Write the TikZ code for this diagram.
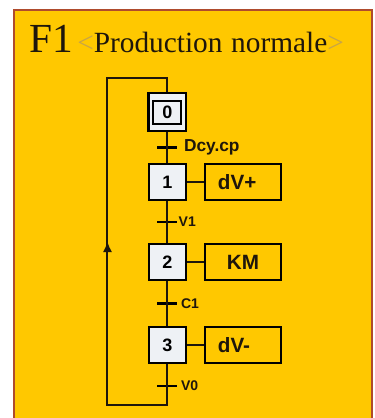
\documentclass[tikz,border=0pt]{standalone}
\usepackage{fontspec}
\setmainfont{Liberation Serif}
\newfontfamily\grafsans{Liberation Sans}
\usepackage{xcolor}
\usepackage{tikz}
\usetikzlibrary{positioning,calc,arrows.meta}

\definecolor{fond}{RGB}{255,200,0}
\definecolor{cadre}{RGB}{175,75,45}
\definecolor{blanc}{RGB}{238,241,245}
\definecolor{chevron}{RGB}{200,165,70}
\definecolor{encre}{RGB}{30,22,12}

\begin{document}
\begin{tikzpicture}
                \tikzstyle{etape} = [rectangle, minimum width=27.45pt, minimum height=26.7pt, inner sep=0pt, draw=black, line width=1.8pt, fill=blanc, font=\grafsans\bfseries\fontsize{13.5pt}{14pt}\selectfont]
                \tikzstyle{etapeinit} = [etape, minimum width=28.2pt, minimum height=28.2pt]
                \tikzstyle{etapein} = [rectangle, minimum width=21pt, minimum height=17.25pt, inner sep=0pt, draw=black, line width=1.5pt, font=\grafsans\bfseries\fontsize{13.5pt}{14pt}\selectfont]
                \tikzstyle{action} = [rectangle, minimum width=56.7pt, minimum height=26.7pt, inner sep=0pt, draw=black, line width=1.8pt, text=encre, font=\grafsans\bfseries\fontsize{15.5pt}{16pt}\selectfont]
                \tikzstyle{actionl} = [action, inner xsep=9.6pt, text width=37.5pt, align=left]
                \tikzstyle{recept} = [rectangle, fill=black, minimum width=15pt, minimum height=1.6pt, inner sep=0pt]
                \tikzstyle{cond} = [anchor=west, inner sep=0pt, text=encre, font=\grafsans\bfseries\fontsize{10.5pt}{11pt}\selectfont]
                \tikzstyle{link} = [line width=1.5pt, draw=encre]
                \tikzstyle{arrow} = [link, -{Latex[length=8pt,width=7pt]}]

                \useasboundingbox (0,0) rectangle (281.25pt,-313.5pt);
                \draw [cadre, fill=fond, line width=1.2pt] (10.5pt,-7.5pt) rectangle (279pt,-330pt);

                \node (titre) [anchor=base west, inner sep=0pt, text=encre] at (22pt,-39.5pt)
                    {{\fontsize{31pt}{31pt}\selectfont F1}\hspace{3pt}{\fontsize{22pt}{22pt}\selectfont\textcolor{chevron}{<}Production\hspace{1pt} normale\textcolor{chevron}{>}}};

                % etapes
                \node (s0) [etapeinit] at (125.6pt,-84pt) {};
                \node (s0in) [etapein] at (s0.center) {0};
                \node (s1) [etape, below=23.25pt of s0] {1};
                \node (s2) [etape, below=31.5pt of s1] {2};
                \node (s3) [etape, below=33.75pt of s2] {3};

                % actions
                \node (a1) [actionl, right=12.75pt of s1] {dV+};
                \node (a2) [action, right=12.75pt of s2] {KM};
                \node (a3) [actionl, right=12.75pt of s3] {dV-};

                % receptivites
                \path (s0) -- node [recept] (t0) {} (s1);
                \path (s1) -- node [recept] (t1) {} (s2);
                \path (s2) -- node [recept] (t2) {} (s3);
                \node (t3) [recept, below=15.5pt of s3] {};
                \node (l0) [cond, right=4.5pt of t0, font=\grafsans\bfseries\fontsize{13pt}{14pt}\selectfont] {Dcy.cp};
                \node (l1) [cond, right=0.5pt of t1] {V1};
                \node (l2) [cond, right=2.25pt of t2] {C1};
                \node (l3) [cond, right=2.25pt of t3] {V0};

                \coordinate (cbot) at ([yshift=-14.25pt]t3.center);
                \coordinate (cleft) at ([xshift=-45pt]cbot);
                \coordinate (ctop) at ([yshift=10.5pt]s0.north);

                \draw [link] (s0) -- (s1);
                \draw [link] (s1) -- (s2);
                \draw [link] (s2) -- (s3);
                \draw [link] (s3) -- (t3.center) -- (cbot) -- (cleft) |- (ctop) -- (s0);
                \draw [arrow] (cleft) -- ($(cleft)!0.5!(cleft |- ctop)$);
                \draw [link] (s1) -- (a1);
                \draw [link] (s2) -- (a2);
                \draw [link] (s3) -- (a3);
\end{tikzpicture}
\end{document}
